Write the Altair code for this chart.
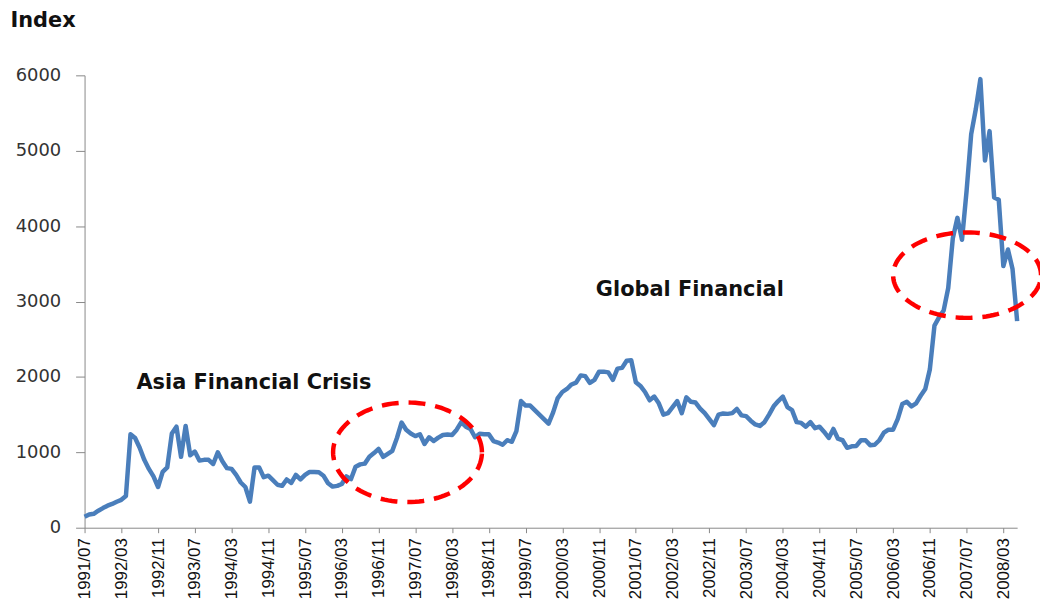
import altair as alt
import numpy as np
import pandas as pd

# Monthly index values, 1991/07 .. 2008/06
start_year, start_month = 1991, 7
index_values = [
    145, 175, 185, 225, 260, 292,                                   # 1991/07-12
    315, 345, 370, 420, 1240, 1190, 1060, 900, 780, 680, 540, 740,  # 1992
    800, 1250, 1340, 940, 1350, 960, 1010, 890, 900, 900, 845, 1000,  # 1993
    880, 790, 780, 700, 600, 540, 345, 800, 800, 670, 690, 630,     # 1994
    570, 555, 640, 595, 700, 640, 700, 740, 740, 735, 690, 590,     # 1995
    545, 555, 580, 680, 645, 810, 840, 850, 940, 990, 1045, 940,    # 1996
    980, 1020, 1190, 1395, 1300, 1250, 1215, 1240, 1110, 1200, 1150, 1195,  # 1997
    1230, 1235, 1230, 1300, 1400, 1340, 1310, 1200, 1245, 1240, 1240, 1150,  # 1998
    1130, 1100, 1160, 1140, 1280, 1680, 1620, 1620, 1560, 1500, 1440, 1380,  # 1999
    1530, 1720, 1800, 1840, 1900, 1925, 2020, 2010, 1920, 1960, 2070, 2070,  # 2000
    2060, 1960, 2110, 2120, 2215, 2220, 1930, 1880, 1800, 1690, 1740, 1650,  # 2001
    1500, 1520, 1600, 1680, 1520, 1730, 1670, 1660, 1580, 1520, 1440, 1360,  # 2002
    1500, 1515, 1510, 1520, 1575, 1490, 1480, 1420, 1370, 1350, 1400, 1500,  # 2003
    1610, 1680, 1740, 1600, 1560, 1400, 1390, 1340, 1400, 1320, 1340, 1270,  # 2004
    1190, 1310, 1180, 1160, 1060, 1080, 1085, 1160, 1160, 1095, 1100, 1160,  # 2005
    1260, 1300, 1300, 1440, 1640, 1670, 1610, 1650, 1750, 1840, 2100, 2680,  # 2006
    2790, 2880, 3180, 3840, 4110, 3820, 4470, 5220, 5550, 5950, 4870, 5260,  # 2007
    4380, 4350, 3470, 3690, 3430, 2740,                             # 2008/01-06
]
month_index = list(range(len(index_values)))
tick_months = list(range(0, 201, 8))
y_ticks = [0, 1000, 2000, 3000, 4000, 5000, 6000]

# Annotation texts and highlighted regions (center month, center value, radii)
labels = ["Asia Financial Crisis", "Global Financial"]
label_month = [11.3, 111.3]
label_value = [1925, 3150]
ellipse_cx = [70.3, 192.1]
ellipse_cy = [1000, 3350]
ellipse_rx = [16.2, 16.1]
ellipse_ry = [660, 567]

df = pd.DataFrame({"m": month_index, "v": index_values})

ell_rows = []
t = np.linspace(0, 2 * np.pi, 121)
for k in range(len(ellipse_cx)):
    for j, tt in enumerate(t):
        ell_rows.append({"id": k, "o": j,
                         "m": ellipse_cx[k] + ellipse_rx[k] * np.cos(tt),
                         "v": ellipse_cy[k] + ellipse_ry[k] * np.sin(tt)})
ell_df = pd.DataFrame(ell_rows)
txt_df = pd.DataFrame({"m": label_month, "v": label_value, "t": labels})

label_expr = ("floor((datum.value+6)/12)+1991 + '/' + "
              "((((datum.value+6)%12)+1) < 10 ? '0' : '') + (((datum.value+6)%12)+1)")

x_scale = alt.Scale(domain=[0, 203], nice=False, zero=False)
y_scale = alt.Scale(domain=[0, 6000], nice=False)

x_axis = alt.Axis(values=tick_months, labelExpr=label_expr, labelAngle=-90,
                  labelFont="Liberation Sans", labelFontSize=17, labelColor="#111111",
                  labelPadding=5, tickSize=5, tickColor="#888888", domainColor="#888888",
                  grid=False, title=None, labelOverlap=False, labelBound=False, labelFlush=False)
y_axis = alt.Axis(values=y_ticks, labelFont="DejaVu Sans", labelFontSize=18,
                  labelColor="#333333", labelPadding=15, tickSize=9, tickColor="#888888",
                  domainColor="#888888", grid=False, format="d",
                  title="Index", titleAngle=0, titleAlign="left", titleBaseline="alphabetic",
                  titleX=-75, titleY=-49, titleFont="DejaVu Sans", titleFontSize=21,
                  titleFontWeight="bold", titleColor="#111111")

X = alt.X("m:Q", scale=x_scale, axis=x_axis)
Y = alt.Y("v:Q", scale=y_scale, axis=y_axis)

line = alt.Chart(df).mark_line(color="#4A7EBB", strokeWidth=4.5, strokeJoin="round").encode(
    x=X, y=Y,
)

ellipses = alt.Chart(ell_df).mark_line(color="#FF0000", strokeWidth=4.5,
                                       strokeDash=[17, 10], clip=False).encode(
    x=X, y=Y,
    detail="id:N",
    order="o:Q",
)

texts = alt.Chart(txt_df).mark_text(align="left", baseline="middle", font="DejaVu Sans",
                                    fontSize=21, fontWeight="bold", color="#111111").encode(
    x=X, y=Y,
    text="t:N",
)

chart = alt.layer(line, ellipses, texts).properties(
    width=938, height=455,
    autosize=alt.AutoSizeParams(type="none"),
    padding={"left": 77, "top": 66, "right": 23, "bottom": 74},
    background="white",
).configure_view(stroke=None).configure_axisX(labelOverlap=False)

chart.save("out.html", embed_options={"renderer": "svg", "actions": False})
